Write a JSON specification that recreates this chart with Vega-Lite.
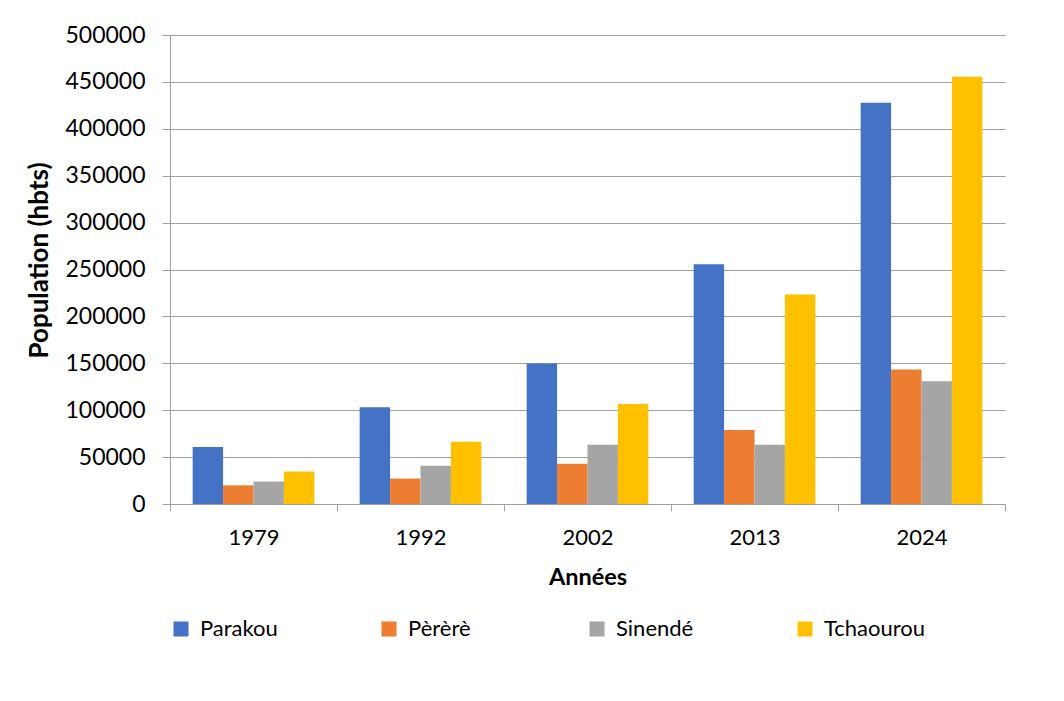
{
  "$schema": "https://vega.github.io/schema/vega-lite/v6.json",
  "autosize": {"type": "none"},
  "width": 835,
  "height": 469,
  "padding": {"left": 170, "top": 35, "right": 59, "bottom": 197},
  "background": "white",
  "config": {
    "font": "Lato",
    "view": {"stroke": null},
    "axis": {"labelFont": "Lato", "titleFont": "Lato", "labelColor": "#000000", "titleColor": "#000000"}
  },
  "data": {
    "values": [
      {"annee": "1979", "commune": "Parakou", "population": 60900},
      {"annee": "1979", "commune": "Pèrèrè", "population": 19900},
      {"annee": "1979", "commune": "Sinendé", "population": 23900},
      {"annee": "1979", "commune": "Tchaourou", "population": 34600},
      {"annee": "1992", "commune": "Parakou", "population": 103200},
      {"annee": "1992", "commune": "Pèrèrè", "population": 27100},
      {"annee": "1992", "commune": "Sinendé", "population": 40700},
      {"annee": "1992", "commune": "Tchaourou", "population": 66400},
      {"annee": "2002", "commune": "Parakou", "population": 149800},
      {"annee": "2002", "commune": "Pèrèrè", "population": 42900},
      {"annee": "2002", "commune": "Sinendé", "population": 63200},
      {"annee": "2002", "commune": "Tchaourou", "population": 106700},
      {"annee": "2013", "commune": "Parakou", "population": 255500},
      {"annee": "2013", "commune": "Pèrèrè", "population": 78900},
      {"annee": "2013", "commune": "Sinendé", "population": 63200},
      {"annee": "2013", "commune": "Tchaourou", "population": 223300},
      {"annee": "2024", "commune": "Parakou", "population": 427900},
      {"annee": "2024", "commune": "Pèrèrè", "population": 143300},
      {"annee": "2024", "commune": "Sinendé", "population": 130900},
      {"annee": "2024", "commune": "Tchaourou", "population": 455400}
    ]
  },
  "mark": {"type": "bar"},
  "encoding": {
    "x": {
      "field": "annee",
      "type": "nominal",
      "scale": {"paddingInner": 0, "paddingOuter": 0},
      "axis": {
        "title": "Années",
        "titleFontSize": 23.5,
        "titleFontWeight": "bold",
        "titlePadding": 17,
        "labelFontSize": 22,
        "labelAngle": 0,
        "labelPadding": 16,
        "tickBand": "extent",
        "tickSize": 7,
        "tickColor": "#a0a0a0",
        "domainColor": "#a0a0a0",
        "grid": false
      }
    },
    "xOffset": {
      "field": "commune",
      "type": "nominal",
      "scale": {"domain": ["Parakou", "Pèrèrè", "Sinendé", "Tchaourou"], "paddingInner": 0, "paddingOuter": 0.745}
    },
    "y": {
      "field": "population",
      "type": "quantitative",
      "scale": {"domain": [0, 500000], "nice": false},
      "axis": {
        "title": "Population (hbts)",
        "titleFontSize": 26,
        "titleFontWeight": "bold",
        "titlePadding": 12,
        "titleY": 225,
        "labelFontSize": 23,
        "labelPadding": 17,
        "format": "d",
        "values": [0, 50000, 100000, 150000, 200000, 250000, 300000, 350000, 400000, 450000, 500000],
        "tickSize": 8,
        "tickColor": "#a0a0a0",
        "domainColor": "#a0a0a0",
        "gridColor": "#a0a0a0",
        "gridWidth": 1.2,
        "grid": true
      }
    },
    "color": {
      "field": "commune",
      "type": "nominal",
      "scale": {"domain": ["Parakou", "Pèrèrè", "Sinendé", "Tchaourou"], "range": ["#4472C4", "#ED7D31", "#A5A5A5", "#FFC000"]},
      "legend": {
        "title": null,
        "orient": "none",
        "legendX": 0,
        "legendY": 583,
        "direction": "horizontal",
        "columns": 4,
        "gridAlign": "all",
        "columnPadding": 76,
        "symbolType": "square",
        "symbolSize": 225,
        "symbolStrokeWidth": 0,
        "labelFontSize": 22,
        "labelFont": "Lato",
        "labelColor": "#000000",
        "labelOffset": 8
      }
    }
  }
}
